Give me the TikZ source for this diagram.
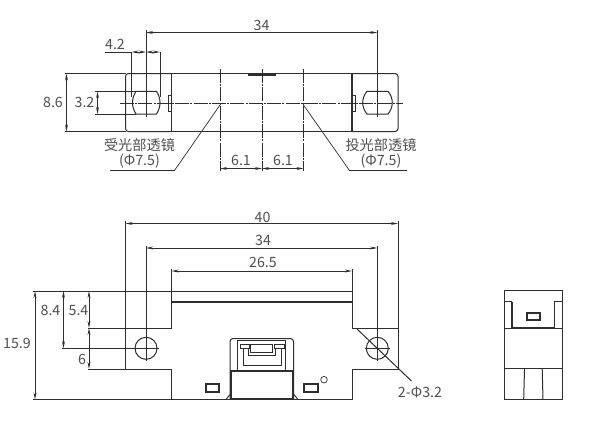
\documentclass[tikz,border=0pt]{standalone}
\usepackage{fontspec}
\setmainfont{Noto Sans CJK SC}
\usetikzlibrary{arrows.meta}
\definecolor{ink}{HTML}{2E2E2E}
\definecolor{txt}{HTML}{505050}
\begin{document}
\begin{tikzpicture}[
     x=1pt,y=-1pt,
     line/.style={ink,line width=1pt},
     heavy/.style={ink,line width=1.5pt},
     window/.style={ink,line width=2pt},
     thin/.style={ink,line width=0.7pt},
     dim/.style={ink,line width=0.7pt,{Stealth[length=7pt,width=2.8pt]}-{Stealth[length=7pt,width=2.8pt]}},
     axis/.style={ink,line width=0.7pt,dash pattern=on 14pt off 1.2pt on 2pt off 1.2pt},
     lab/.style={text=txt,font=\fontsize{14.2}{16}\selectfont,inner sep=0pt}
   ]
   \path[use as bounding box] (0,0) rectangle (603,429);
   \fill[white] (0,0) rectangle (603,429);
   % Top view.
   \draw[line,rounded corners=3pt] (171.5,73.5) -- (125.5,73.5) -- (125.5,131.5) -- (171.5,131.5);
   \draw[line,rounded corners=3pt] (352,73.5) -- (398,73.5) -- (398,131.5) -- (352,131.5);
   \draw[heavy] (171.5,73.5) rectangle (352,131.5);
   \fill[ink] (247.5,73.5) rectangle (275.5,76);
   \draw[line] (171.5,95) -- (168.5,95) -- (168.5,111) -- (171.5,111);
   \draw[line] (352,95) -- (355,95) -- (355,111) -- (352,111);
   \draw[line] (136,91.3) -- (156.5,91.3) to[bend left=32] (156.5,114) -- (136,114) to[bend left=32] (136,91.3);
   \draw[line] (367,91.3) -- (388,91.3) to[bend left=40] (388,114) -- (367,114) to[bend left=40] (367,91.3);
   \draw[axis] (120,103) -- (403,103);
   \draw[thin] (146,30) -- (146,117);
   \draw[thin] (377.3,30) -- (377.3,117);
   \draw[axis] (220,69) -- (220,171);
   \draw[axis] (262,69) -- (262,171);
   \draw[axis] (303.5,69) -- (303.5,171);
   % Top view dimensions.
   \draw[dim] (146,32.5) -- (377.3,32.5);
   \node[lab] (topA) at (261.5,25) {34};
   \draw[thin] (131.5,52) -- (131.5,97);
   \draw[thin] (160,52) -- (160,97);
   \draw[thin] (105,52) -- (131.5,52);
   \draw[dim] (131.5,52) -- (146,52);
   \draw[dim] (146,52) -- (160,52);
   \node[lab] (topB) at (115,44.5) {4.2};
   \draw[thin] (65,73.5) -- (125.5,73.5);
   \draw[thin] (65,131.5) -- (125.5,131.5);
   \draw[dim] (66.5,73.5) -- (66.5,131.5);
   \node[lab] (topC) at (53,102.5) {8.6};
   \draw[thin] (95,91.3) -- (136,91.3);
   \draw[thin] (95,114) -- (136,114);
   \draw[dim] (97.5,91.3) -- (97.5,114);
   \node[lab] (topD) at (84.5,102.5) {3.2};
   \draw[dim] (220,168.5) -- (262,168.5);
   \draw[dim] (262,168.5) -- (303.5,168.5);
   \node[lab] (topE) at (241,160) {6.1};
   \node[lab] (topF) at (283,160) {6.1};
   \draw[thin] (220,105) -- (174.5,170.5) -- (110,170.5);
   \draw[thin] (303.5,105) -- (349.5,170.5) -- (407,170.5);
   \node[lab] (lensA) at (139.5,145.5) {受光部透镜};
   \node[lab] (lensB) at (139.5,161.5) {(Φ7.5)};
   \node[lab] (lensC) at (381,145.5) {投光部透镜};
   \node[lab] (lensD) at (381,161.5) {(Φ7.5)};
   % Front view.
   \draw[line] (125.5,328) -- (171.5,328) -- (171.5,291);
   \draw[line] (125.5,369) -- (171.5,369) -- (171.5,399.5);
   \draw[line] (125.5,328) -- (125.5,369);
   \draw[line] (352,302) -- (352,328) -- (398,328) -- (398,369) -- (352,369) -- (352,399.5);
   \draw[line] (33,399.5) -- (352,399.5);
   \draw[line] (33,291) -- (171.5,291);
   \draw[line] (171.5,291) -- (352,291) -- (352,302);
   \draw[heavy] (171.5,302) -- (352,302);
   \draw[line] (146,348.3) circle (11);
   \draw[line] (377.3,348.3) circle (11);
   \draw[thin] (135,348.3) -- (158.5,348.3);
   \draw[thin] (365,348.3) -- (390,348.3);
   \draw[thin] (377.3,336) -- (377.3,360.5);
   \draw[thin] (146,336) -- (146,360.5);
   \draw[line] (357,329) -- (411.5,381);
   \node[lab] (holeA) at (420,392.5) {2-Φ3.2};
   % Front view dimensions.
   \draw[thin] (125.5,221) -- (125.5,328);
   \draw[thin] (398,221) -- (398,328);
   \draw[thin] (146,246) -- (146,337);
   \draw[thin] (377.3,246) -- (377.3,337);
   \draw[thin] (171.5,269) -- (171.5,291);
   \draw[thin] (352,269) -- (352,291);
   \draw[dim] (125.5,223.5) -- (398,223.5);
   \draw[dim] (146,248) -- (377.3,248);
   \draw[dim] (171.5,271) -- (352,271);
   \node[lab] (frontA) at (262.5,217) {40};
   \node[lab] (frontB) at (263,240) {34};
   \node[lab] (frontC) at (263,262) {26.5};
   \draw[dim] (35,291) -- (35,399.5);
   \draw[dim] (63.5,291) -- (63.5,348.3);
   \draw[dim] (89,291) -- (89,328);
   \draw[dim] (89,328) -- (89,369);
   \draw[thin] (88,328) -- (125.5,328);
   \draw[thin] (88,369) -- (125.5,369);
   \draw[thin] (62,348.3) -- (135,348.3);
   \node[lab] (frontD) at (50.5,310.5) {8.4};
   \node[lab] (frontE) at (78.5,310.5) {5.4};
   \node[lab] (frontF) at (17,343) {15.9};
   \node[lab] (frontG) at (82,359) {6};
   % Connector.
   \draw[line,rounded corners=3pt] (230,399) -- (230,338.5) -- (293.5,338.5) -- (293.5,399);
   \draw[line] (230,370.7) -- (293.5,370.7);
   \draw[heavy] (231,371) rectangle (293,398.5);
   \draw[line] (226,399.5) -- (230,394.5);
   \draw[line] (298,399.5) -- (294,394.5);
   \draw[line] (237.7,370.7) -- (237.7,340.7) -- (285.7,340.7) -- (285.7,370.7);
   \draw[thin] (240,344) rectangle (249,348);
   \draw[thin] (274.5,344) rectangle (284,348);
   \draw[thin] (250.7,344) rectangle (272.7,352.7);
   \draw[line] (248.7,348) -- (248.7,355) -- (275,355) -- (275,348);
   \draw[line] (243.3,348) -- (243.3,365.7) -- (281.3,365.7) -- (281.3,348);
   \draw[heavy] (250,365.7) -- (255,365.7) (259,365.7) -- (265,365.7) (268,365.7) -- (274,365.7);
   \draw[window] (206,384.3) rectangle (219,391.7);
   \draw[window] (304.3,384.3) rectangle (317.5,391.7);
   \draw[thin] (324,379.7) circle (3.3);
   % Side view.
   \draw[line] (504.7,290.7) rectangle (562.7,399.3);
   \draw[line] (504.7,301.7) -- (512,301.7);
   \draw[heavy] (512,301.7) -- (512,327.7) -- (554.3,327.7) -- (554.3,301.7);
   \draw[line] (554.3,301.7) -- (562.7,301.7);
   \draw[thin] (504.7,328) -- (562.7,328);
   \draw[line] (504.7,368.7) -- (562.7,368.7);
   \draw[line] (524.5,368.7) -- (523.7,399.3);
   \draw[line] (542.2,368.7) -- (543,399.3);
   \draw[window] (527.3,312.8) rectangle (540.2,320);
 \end{tikzpicture}
\end{document}
